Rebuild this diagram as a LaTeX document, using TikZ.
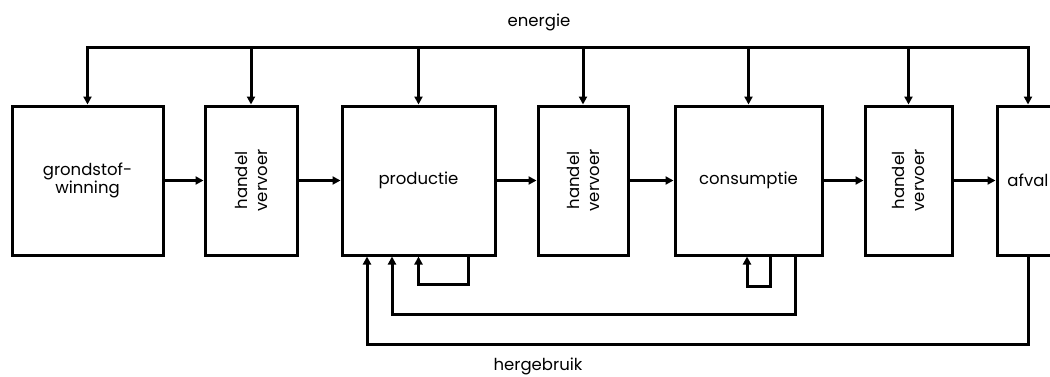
\documentclass[tikz,border=0pt]{standalone}
\usepackage{fontspec}
\setmainfont{Poppins}
\usetikzlibrary{arrows.meta}
\begin{document}
\begin{tikzpicture}[x=1pt,y=-1pt,
  blk/.style={draw,line width=3pt,minimum height=149pt,inner sep=0pt,
    font=\fontsize{16.5}{17.5}\selectfont,align=center},
  lbl/.style={font=\fontsize{16.5}{20}\selectfont},
  flow/.style={line width=3pt,-{Triangle[length=8pt,width=8pt]}},
  wire/.style={line width=3pt}]
\useasboundingbox (0,0) rectangle (1050,376);
\clip (0,0) rectangle (1050,376);
\fill[white] (0,0) rectangle (1050,376);

% chain of stages
\node[blk,minimum width=151pt] (b1) at (87.5,180.5) {grondstof-\\winning};
\node[blk,minimum width=92pt]  (b2) at (251,180.5) {};
\node[rotate=90,lbl,align=center] (t2) at (b2.center) {handel\\vervoer};
\node[blk,minimum width=153pt] (b3) at (418.5,180.5) {productie};
\node[blk,minimum width=90pt]  (b4) at (583,180.5) {};
\node[rotate=90,lbl,align=center] (t4) at (b4.center) {handel\\vervoer};
\node[blk,minimum width=147pt] (b5) at (748.5,180.5) {consumptie};
\node[blk,minimum width=87pt]  (b6) at (908.5,180.5) {};
\node[rotate=90,lbl,align=center] (t6) at (b6.center) {handel\\vervoer};
\node[blk,minimum width=62pt]  (b7) at (1028,180.5) {afval};

% labels
\node[lbl] (en) at (539,22) {energie};
\node[lbl] (hg) at (538,366) {hergebruik};

% energy supply
\coordinate (eL) at (0,47);
\draw[wire,{Triangle[length=8pt,width=8pt]}-{Triangle[length=8pt,width=8pt]}]
  (b1.north) -- (b1.north |- eL) -- (b7.north |- eL) -- (b7.north);
\foreach \b in {b2,b3,b4,b5,b6}
  \draw[flow] (\b.north |- eL) -- (\b.north);

% main flow
\draw[flow] (b1.east) -- (b2.west);
\draw[flow] (b2.east) -- (b3.west);
\draw[flow] (b3.east) -- (b4.west);
\draw[flow] (b4.east) -- (b5.west);
\draw[flow] (b5.east) -- (b6.west);
\draw[flow] (b6.east) -- (b7.west);

% reuse loops
\draw[flow] ([xshift=49.5pt]b3.south) -- ++(0,28) -| (b3.south);
\draw[flow] ([xshift=21.5pt]b5.south) -- ++(0,30) -| ([xshift=-1.5pt]b5.south);
\draw[flow] ([xshift=46.5pt]b5.south) -- ++(0,58) -| ([xshift=-26.5pt]b3.south);
\draw[flow] (b7.south) -- ++(0,88) -| ([xshift=-51.5pt]b3.south);
\end{tikzpicture}
\end{document}
